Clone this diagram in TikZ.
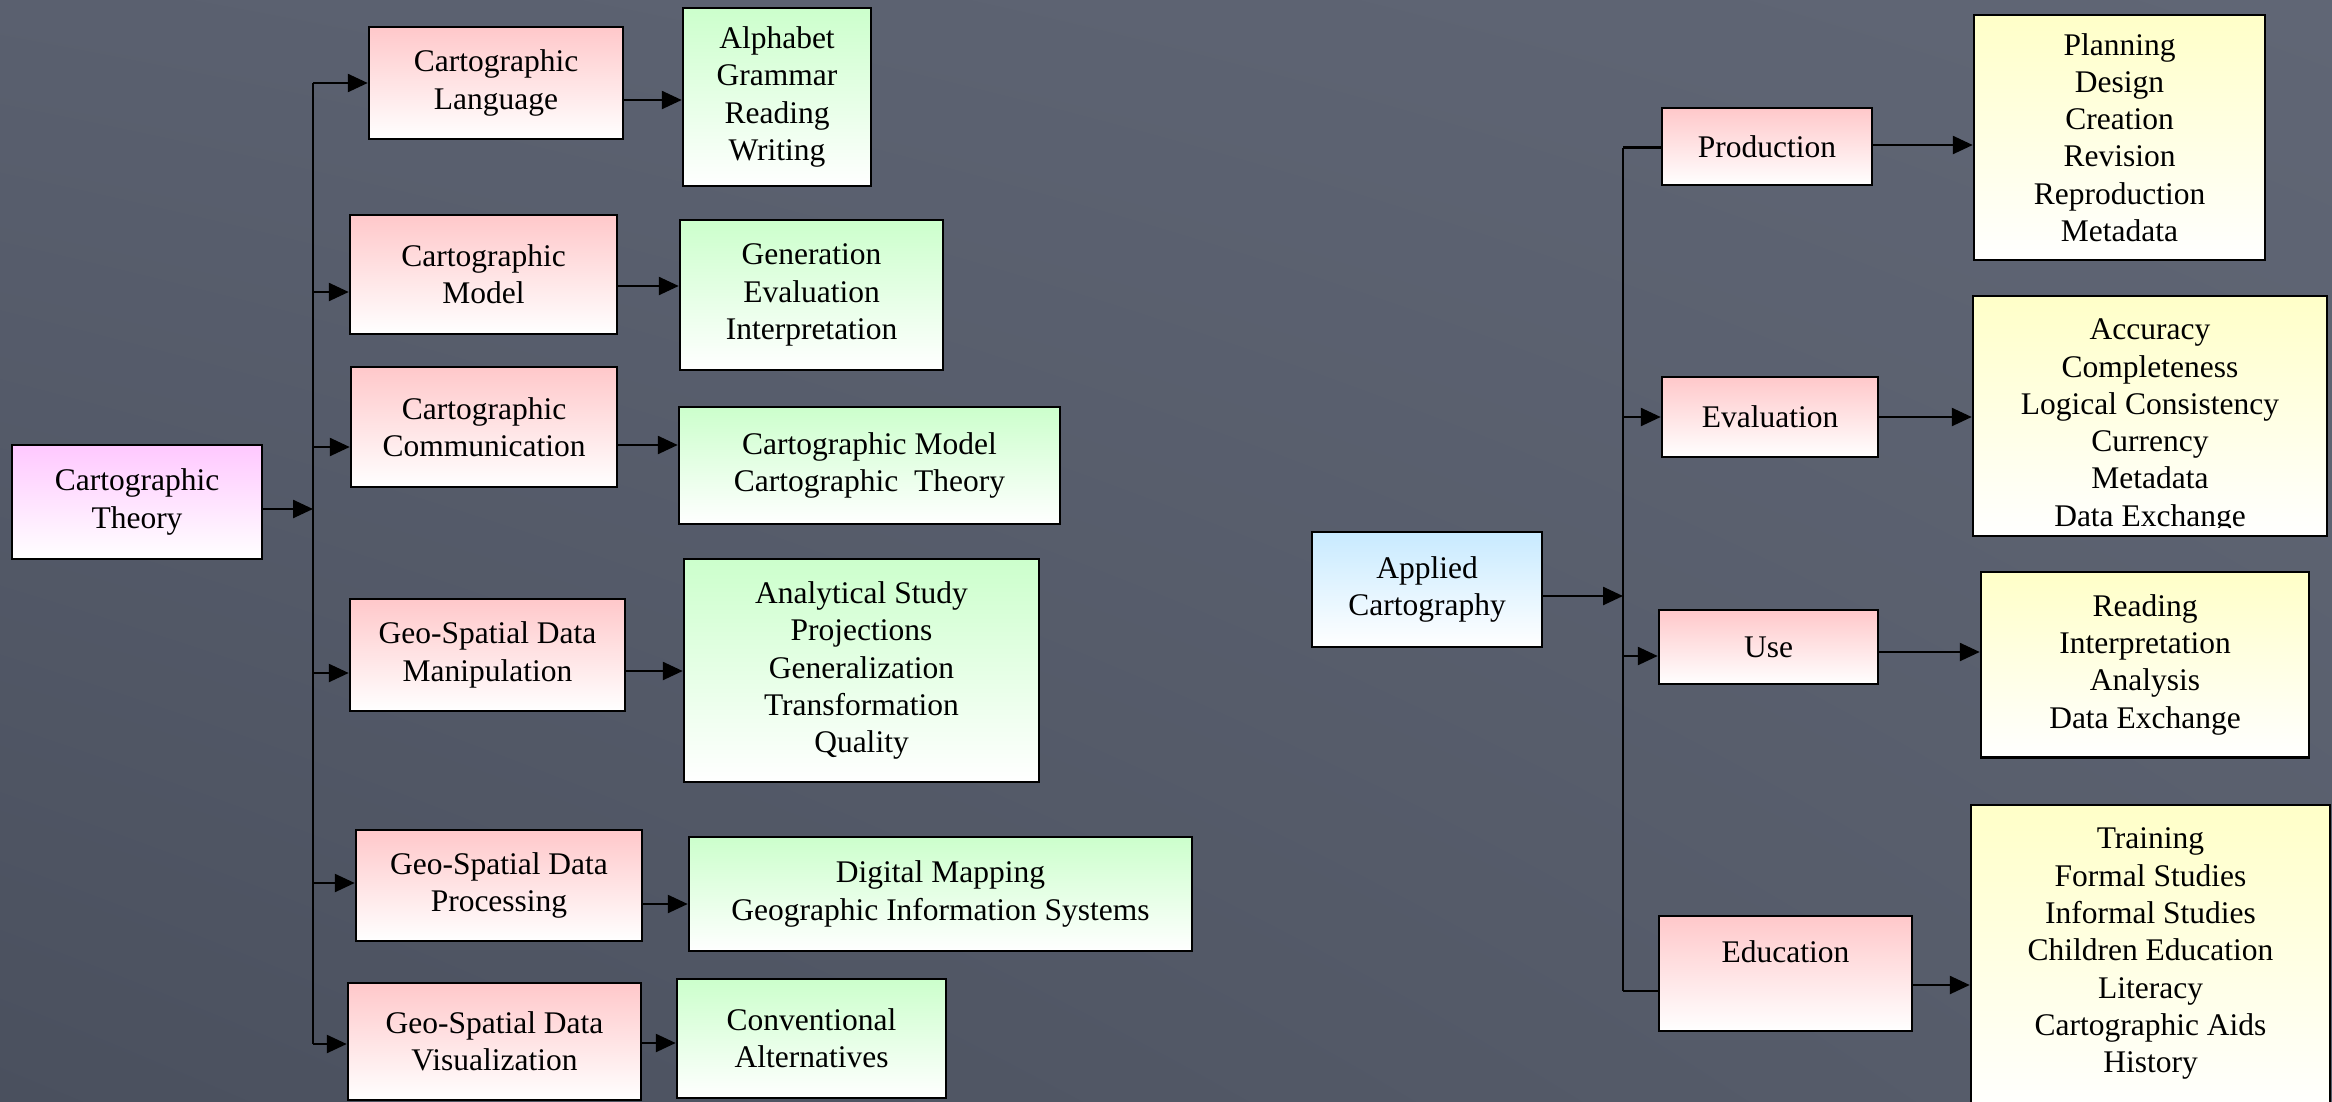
\documentclass[tikz,border=0pt]{standalone}
\usepackage{fontspec}
\setmainfont{Liberation Serif}
\usetikzlibrary{arrows.meta,shadings}
\definecolor{bgcol}{RGB}{86,92,106}
\definecolor{bgul}{RGB}{90,96,111}
\definecolor{bgur}{RGB}{96,102,117}
\definecolor{bgll}{RGB}{74,80,94}
\definecolor{bglr}{RGB}{88,94,108}
\definecolor{pinktop}{RGB}{255,200,202}
\definecolor{greentop}{RGB}{204,255,204}
\definecolor{yellowtop}{RGB}{255,255,200}
\definecolor{theorytop}{RGB}{255,200,255}
\definecolor{appliedtop}{RGB}{200,234,255}
\tikzset{
  box/.style={draw=black, line width=2.5pt, inner sep=0pt, align=center,
    font=\fontsize{31.5}{37.3}\selectfont},
  pinkbox/.style={box, top color=pinktop, bottom color=white},
  greenbox/.style={box, top color=greentop, bottom color=white},
  yellowbox/.style={box, top color=yellowtop, bottom color=white},
  conn/.style={line width=2.5pt, line join=miter},
  arr/.style={conn, -{Triangle[length=20pt,width=18pt]}},
}
\begin{document}
\begin{tikzpicture}[x=1pt,y=-1pt]
\useasboundingbox (0,0) rectangle (2332,1101);
\fill[bgcol] (0,0) rectangle (2332,1101);
\shade[upper left=bgul, upper right=bgur, lower left=bgll, lower right=bglr] (0,0) rectangle (2332,1101);

% ---------- left tree ----------
\node[pinkbox, top color=theorytop, minimum width=250pt, minimum height=114pt] (theory) at (137,502) {Cartographic\\Theory};
\node[pinkbox, minimum width=254pt, minimum height=112pt] (lang) at (496,83) {Cartographic\\Language};
\node[pinkbox, minimum width=267pt, minimum height=119pt] (model) at (483.5,274.5) {Cartographic\\Model};
\node[pinkbox, minimum width=266pt, minimum height=120pt] (comm) at (484,427) {Cartographic\\Communication};
\node[pinkbox, minimum width=275pt, minimum height=112pt] (manip) at (487.5,655) {Geo-Spatial Data\\Manipulation};
\node[pinkbox, minimum width=286pt, minimum height=111pt] (proc) at (499,885.5) {Geo-Spatial Data\\Processing};
\node[pinkbox, minimum width=293pt, minimum height=117pt] (vis) at (494.5,1041.5) {Geo-Spatial Data\\Visualization};

\node[greenbox, minimum width=188pt, minimum height=178pt] (alpha) at (777,97) {Alphabet\\Grammar\\Reading\\Writing};
\node[greenbox, minimum width=263pt, minimum height=150pt] (gen) at (811.5,295) {Generation\\Evaluation\\Interpretation};
\node[greenbox, minimum width=381pt, minimum height=117pt] (cmct) at (869.5,465.5) {Cartographic Model\\Cartographic~~Theory};
\node[greenbox, minimum width=355pt, minimum height=223pt] (anal) at (861.5,670.5) {Analytical Study\\Projections\\Generalization\\Transformation\\Quality};
\node[greenbox, minimum width=503pt, minimum height=114pt] (dig) at (940.5,894) {Digital Mapping\\Geographic Information Systems};
\node[greenbox, minimum width=269pt, minimum height=119pt] (conv) at (811.5,1038.5) {Conventional\\Alternatives};

% trunk junctions
\coordinate (jlang) at (313,83);
\coordinate (jmodel) at (313,292);
\coordinate (jcomm) at (313,447);
\coordinate (jthe) at (313,509);
\coordinate (jmanip) at (313,673);
\coordinate (jproc) at (313,883);
\coordinate (jvis) at (313,1044);

\draw[conn] (jlang) -- (jvis);
\draw[arr] (jthe -| theory.east) -- (jthe);
\draw[arr] (jlang) -- (jlang -| lang.west);
\draw[arr] (jmodel) -- (jmodel -| model.west);
\draw[arr] (jcomm) -- (jcomm -| comm.west);
\draw[arr] (jmanip) -- (jmanip -| manip.west);
\draw[arr] (jproc) -- (jproc -| proc.west);
\draw[arr] (jvis) -- (jvis -| vis.west);

% out arrows
\coordinate (olang) at (0,100);
\coordinate (omodel) at (0,286);
\coordinate (ocomm) at (0,445);
\coordinate (omanip) at (0,671);
\coordinate (oproc) at (0,904);
\coordinate (ovis) at (0,1043);
\draw[arr] (olang -| lang.east) -- (olang -| alpha.west);
\draw[arr] (omodel -| model.east) -- (omodel -| gen.west);
\draw[arr] (ocomm -| comm.east) -- (ocomm -| cmct.west);
\draw[arr] (omanip -| manip.east) -- (omanip -| anal.west);
\draw[arr] (oproc -| proc.east) -- (oproc -| dig.west);
\draw[arr] (ovis -| vis.east) -- (ovis -| conv.west);

% ---------- right tree ----------
\node[pinkbox, top color=appliedtop, minimum width=230pt, minimum height=115pt] (applied) at (1427,589.5) {Applied\\Cartography};
\node[pinkbox, minimum width=210pt, minimum height=77pt] (prod) at (1767,146.5) {Production};
\node[pinkbox, minimum width=216pt, minimum height=80pt] (eval) at (1770,417) {Evaluation};
\node[pinkbox, minimum width=219pt, minimum height=74pt] (use) at (1768.5,647) {Use};
\node[pinkbox, minimum width=253pt, minimum height=115pt] (edu) at (1785.5,973.5) {Education\\[7pt]\mbox{}};

\node[yellowbox, minimum width=291pt, minimum height=245pt] (plan) at (2119.5,137.5) {Planning\\Design\\Creation\\Revision\\Reproduction\\Metadata};
\node[yellowbox, minimum width=354pt, minimum height=240pt] (acc) at (2150,416) {};
\begin{scope}
\clip (1975,298) rectangle (2325,527);
\node[font=\fontsize{31.5}{37.3}\selectfont, align=center, inner sep=0pt] (acctext) at (2150,426) {Accuracy\\Completeness\\Logical Consistency\\Currency\\Metadata\\Data Exchange};
\end{scope}
\node[yellowbox, minimum width=328pt, minimum height=185.5pt] (read) at (2145,664.75) {Reading\\Interpretation\\Analysis\\Data Exchange};
\node[yellowbox, minimum width=359pt, minimum height=310pt] (train) at (2150.5,960) {Training\\Formal Studies\\Informal Studies\\Children Education\\Literacy\\Cartographic Aids\\History\\[-18pt]\mbox{}};

\coordinate (jprod) at (1623,147.5);
\coordinate (jeval) at (1623,417);
\coordinate (japp) at (1623,596);
\coordinate (juse) at (1623,656);
\coordinate (jedu) at (1623,991);

\draw[conn] (jprod) -- (jedu);
\draw[arr] (japp -| applied.east) -- (japp);
\draw[conn] (jprod) -- (jprod -| prod.west);
\draw[arr] (jeval) -- (jeval -| eval.west);
\draw[arr] (juse) -- (juse -| use.west);
\draw[conn] (jedu) -- (jedu -| edu.west);

\coordinate (oprod) at (0,145);
\coordinate (oeval) at (0,417);
\coordinate (ouse) at (0,652);
\coordinate (oedu) at (0,985);
\draw[arr] (oprod -| prod.east) -- (oprod -| plan.west);
\draw[arr] (oeval -| eval.east) -- (oeval -| acc.west);
\draw[arr] (ouse -| use.east) -- (ouse -| read.west);
\draw[arr] (oedu -| edu.east) -- (oedu -| train.west);
\end{tikzpicture}
\end{document}
